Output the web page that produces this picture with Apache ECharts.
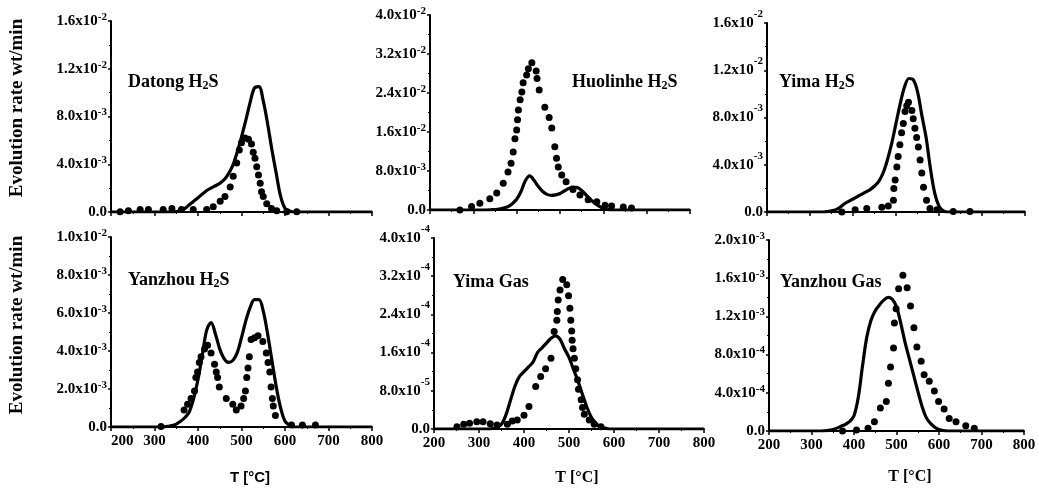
<!DOCTYPE html>
<html>
<head>
<meta charset="utf-8">
<script src="https://cdn.jsdelivr.net/npm/echarts@6/dist/echarts.min.js"></script>
<style>
  html, body { margin: 0; padding: 0; background: #fff; }
  #chart { width: 1039px; height: 491px; }
</style>
</head>
<body>
<div id="chart"></div>
<script>
// Temperature grid (°C) for the model curves
const lineT = [200, 300, 310, 320, 330, 340, 350, 360, 370, 380, 390, 400, 410, 420, 430, 440, 450, 460, 470, 480, 490,
  500, 510, 520, 530, 540, 550, 560, 570, 580, 590, 600, 610, 620, 630, 640, 650, 800];

// Model curves (solid lines), evolution rate wt/min
const datongLine = [0, 0, 0, 0, 0, 0, 0.00003, 0.0001, 0.0003, 0.0006, 0.0009, 0.0012, 0.0015, 0.0018, 0.0020, 0.0022, 0.0024, 0.0027, 0.0032, 0.0039, 0.0050,
  0.0063, 0.0077, 0.0092, 0.0104, 0.0105, 0.0093, 0.0074, 0.0052, 0.0032, 0.0013, 0.0003, 0.0001, 0, 0, 0, 0, 0];
const huolinheLine = [0, 0, 0, 0, 0, 0.00005, 0.0001, 0.0002, 0.0004, 0.0007, 0.0013, 0.0022, 0.0038, 0.0060, 0.0070, 0.0061, 0.0048, 0.0038, 0.0032, 0.0030, 0.0031,
  0.0034, 0.0039, 0.0044, 0.0047, 0.0046, 0.0040, 0.0031, 0.0022, 0.0014, 0.0008, 0.0003, 0.0001, 0, 0, 0, 0, 0];
const yimaLine = [0, 0, 0, 0, 0, 0.00003, 0.0001, 0.0002, 0.0004, 0.0007, 0.0009, 0.0011, 0.0013, 0.0015, 0.0017, 0.0019, 0.0022, 0.0026, 0.0033, 0.0044, 0.0058,
  0.0075, 0.0092, 0.0106, 0.0113, 0.0112, 0.0102, 0.0082, 0.0063, 0.0037, 0.0016, 0.0005, 0.0001, 0, 0, 0, 0, 0];
const yanzhouLine = [0, 0, 0, 0, 0.00003, 0.00007, 0.00015, 0.0003, 0.0005, 0.0008, 0.0015, 0.0025, 0.0038, 0.0051, 0.0055, 0.0049, 0.0041, 0.0036, 0.0034, 0.0035, 0.0039,
  0.0047, 0.0056, 0.0063, 0.0067, 0.0067, 0.0061, 0.0049, 0.0035, 0.0021, 0.0010, 0.0003, 0.0001, 0, 0, 0, 0, 0];
const yimaGasLine = [0, 0, 0, 0, 0.000001, 0.000004, 0.00001, 0.00003, 0.00006, 0.00009, 0.00011, 0.00012, 0.00013, 0.00014, 0.00016, 0.00017, 0.00018, 0.00019, 0.000195, 0.000188, 0.000168,
  0.00015, 0.000125, 0.0001, 0.000072, 0.000045, 0.000024, 0.000012, 0.000005, 0.000002, 0, 0, 0, 0, 0, 0, 0, 0];
const yanzhouGasLine = [0, 0, 0, 0, 0.000002, 0.000006, 0.000015, 0.00003, 0.00005, 0.00007, 0.0001, 0.00016, 0.00035, 0.00068, 0.00098, 0.00116, 0.00126, 0.00132, 0.00137, 0.0014, 0.00138,
  0.0013, 0.00113, 0.00093, 0.00076, 0.00059, 0.00042, 0.00026, 0.00014, 0.00008, 0.00004, 0.000015, 0.000005, 0, 0, 0, 0, 0];

// Measured points (dots)
const datongDotT = [221, 240, 267, 286, 320, 340, 362, 389, 420, 435, 451, 462, 474, 481, 489, 495, 500, 508, 516, 523, 527, 531, 535, 539, 543, 546, 550, 558, 569, 581, 604, 627];
const datongDotV = [0.00003, 0.0001, 0.0002, 0.0002, 0.0002, 0.0003, 0.0002, 0.0002, 0.0002, 0.00045, 0.0009, 0.0013, 0.0021, 0.003, 0.0041, 0.0052,
  0.0058, 0.0062, 0.0061, 0.0057, 0.005, 0.0045, 0.0038, 0.0031, 0.0024, 0.0017, 0.0013, 0.0007, 0.0003, 0.0001, 0.00003, 0.00003];

const huolinheDotT = [269, 296, 315, 338, 354, 369, 380, 387, 392, 396, 400, 402, 404, 408, 412, 415, 423, 427, 435, 445, 447, 452, 465, 475,
  481, 488, 492, 496, 504, 514, 530, 546, 565, 585, 604, 619, 646, 665];
const huolinheDotV = [0, 0.0007, 0.0014, 0.0023, 0.0035, 0.0055, 0.0078, 0.0096, 0.0119, 0.0146, 0.0164, 0.0185, 0.0205, 0.0226, 0.0242, 0.0261,
  0.0277, 0.029, 0.0302, 0.0285, 0.027, 0.0246, 0.0211, 0.019, 0.0168, 0.013, 0.0106, 0.0088, 0.0072, 0.0058, 0.0042, 0.0031, 0.0021,
  0.0017, 0.001, 0.0008, 0.0006, 0.0004];

const yimaDotT = [374, 405, 432, 467, 482, 494, 495, 498, 502, 505, 509, 513, 517, 521, 525, 529, 537, 540, 544, 548, 552, 556, 560, 564, 571, 579, 595, 633, 672];
const yimaDotV = [0, 0.0002, 0.0003, 0.0004, 0.0005, 0.001, 0.002, 0.0027, 0.0038, 0.0047, 0.0057, 0.0067, 0.0075, 0.0085, 0.009, 0.0093,
  0.0086, 0.0079, 0.0071, 0.0063, 0.0055, 0.0044, 0.0033, 0.0021, 0.001, 0.0003, 0.0002, 0.00005, 0.00005];

const yanzhouDotT = [315, 368, 376, 384, 392, 395, 399, 403, 407, 415, 422, 430, 438, 442, 445, 449, 465, 480, 488, 499, 505, 509, 512, 515,
  518, 522, 530, 538, 549, 557, 561, 565, 568, 571, 573, 578, 615, 640, 670];
const yanzhouDotV = [0.00003, 0.0009, 0.0012, 0.0015, 0.0019, 0.0026, 0.0029, 0.0034, 0.0037, 0.0041, 0.0043, 0.0039, 0.0033, 0.0029, 0.0026, 0.0021,
  0.0015, 0.0012, 0.0009, 0.0011, 0.0015, 0.0019, 0.0026, 0.0031, 0.0037, 0.0046, 0.0047, 0.0048, 0.0045, 0.0039, 0.0034, 0.0029,
  0.0021, 0.0015, 0.0011, 0.0006, 0.0001, 0.0001, 0.0001];

const yimaGasDotT = [251, 266, 279, 295, 309, 325, 340, 363, 374, 385, 400, 411, 426, 437, 448, 460, 467, 473, 474, 476, 480, 486, 495, 499,
  502, 504, 506, 507, 509, 512, 515, 519, 521, 527, 530, 534, 545, 556, 571];
const yimaGasDotV = [4.9e-6, 9.8e-6, 1.2e-5, 1.5e-5, 1.5e-5, 1.1e-5, 8.4e-6, 1e-5, 1.7e-5, 1.9e-5, 2.9e-5, 4.7e-5, 8.9e-5, 1.1e-4, 1.26e-4, 1.48e-4,
  2.04e-4, 2.28e-4, 2.46e-4, 2.70e-4, 2.91e-4, 3.13e-4, 3.02e-4, 2.79e-4, 2.53e-4, 2.28e-4, 2.05e-4, 1.86e-4, 1.68e-4, 1.48e-4, 1.26e-4, 1.03e-4,
  8.3e-5, 6.1e-5, 4.5e-5, 3.1e-5, 1.9e-5, 9.8e-6, 4.9e-6];

const yanzhouGasDotT = [373, 406, 433, 448, 462, 476, 481, 486, 493, 495, 499, 505, 515, 525, 533, 541, 548, 558, 565, 577, 589, 599, 612, 624, 640, 663, 683];
const yanzhouGasDotV = [0, 0.00001, 0.000028, 0.000098, 0.00024, 0.00031, 0.0005, 0.00067, 0.00087, 0.00113, 0.00128, 0.00149, 0.00163, 0.0015, 0.00131, 0.00108,
  0.00088, 0.00073, 0.00059, 0.00052, 0.00042, 0.00031, 0.00023, 0.00013, 0.000097, 0.000055, 0.000028];

// Axis tick labels
const xTickLabels = ['200', '300', '400', '500', '600', '700', '800'];
const yLabelsDatong = ['0.0', '4.0x10-3', '8.0x10-3', '1.2x10-2', '1.6x10-2'];
const yLabelsHuolinhe = ['0.0', '8.0x10-3', '1.6x10-2', '2.4x10-2', '3.2x10-2', '4.0x10-2'];
const yLabelsYima = ['0.0', '4.0x10-3', '8.0x10-3', '1.2x10-2', '1.6x10-2'];
const yLabelsYanzhou = ['0.0', '2.0x10-3', '4.0x10-3', '6.0x10-3', '8.0x10-3', '1.0x10-2'];
const yLabelsYimaGas = ['0.0', '8.0x10-5', '1.6x10-4', '2.4x10-4', '3.2x10-4', '4.0x10-4'];
const yLabelsYanzhouGas = ['0.0', '4.0x10-4', '8.0x10-4', '1.2x10-3', '1.6x10-3', '2.0x10-3'];

// Panel names: [text before subscript, subscript, text after]
const panelNames = [
  ['Datong H', '2', 'S'], ['Huolinhe H', '2', 'S'], ['Yima H', '2', 'S'],
  ['Yanzhou H', '2', 'S'], ['Yima Gas', '', ''], ['Yanzhou Gas', '', '']
];
const yTitle = 'Evolution rate wt/min';
const xTitle = 'T [°C]';

const SERIF = '"Liberation Serif", "Times New Roman", serif';
const SANS = '"Liberation Sans", Arial, sans-serif';

const pair = (xs, ys) => xs.map((x, i) => [x, ys[i]]);

const panels = [
  { rect: [111, 21, 261, 191], max: 0.016, interval: 0.004, labels: yLabelsDatong, line: datongLine, dt: datongDotT, dv: datongDotV, supPad: 8, xl: false, name: [128, 82] },
  { rect: [430, 15, 260, 195], max: 0.04, interval: 0.008, labels: yLabelsHuolinhe, line: huolinheLine, dt: huolinheDotT, dv: huolinheDotV, supPad: 8, xl: false, name: [572, 82] },
  { rect: [767, 23, 258, 189], max: 0.016, interval: 0.004, labels: yLabelsYima, line: yimaLine, dt: yimaDotT, dv: yimaDotV, supPad: 18, xl: false, name: [779, 82] },
  { rect: [111, 237, 261, 190], max: 0.01, interval: 0.002, labels: yLabelsYanzhou, line: yanzhouLine, dt: yanzhouDotT, dv: yanzhouDotV, supPad: 8, xl: true, name: [128, 280] },
  { rect: [434, 238, 270, 191], max: 0.0004, interval: 0.00008, labels: yLabelsYimaGas, line: yimaGasLine, dt: yimaGasDotT, dv: yimaGasDotV, supPad: 18, xl: true, name: [453, 282] },
  { rect: [769, 240, 255, 191], max: 0.002, interval: 0.0004, labels: yLabelsYanzhouGas, line: yanzhouGasLine, dt: yanzhouGasDotT, dv: yanzhouGasDotV, supPad: 8, xl: true, name: [780, 282] }
];

const axisLine = { show: true, onZero: false, lineStyle: { color: '#000', width: 2 } };

const grid = [], xAxis = [], yAxis = [], series = [], graphic = [];

panels.forEach((p, i) => {
  grid.push({ left: p.rect[0], top: p.rect[1], width: p.rect[2], height: p.rect[3], containLabel: false, outerBoundsMode: 'none' });
  xAxis.push({
    gridIndex: i, type: 'value', min: 200, max: 800, interval: 100,
    axisLine, splitLine: { show: false },
    axisTick: { show: true, length: 4, lineStyle: { color: '#000', width: 1.5 } },
    minorTick: { show: true, splitNumber: 2, length: 2, lineStyle: { color: '#000', width: 1 } },
    axisLabel: {
      show: p.xl, margin: 7, alignMinLabel: i === 3 ? 'left' : 'center',
      fontFamily: SERIF, fontWeight: 'bold', fontSize: 15, color: '#000',
      formatter: v => xTickLabels[Math.round((v - 200) / 100)]
    }
  });
  yAxis.push({
    gridIndex: i, type: 'value', min: 0, max: p.max, interval: p.interval,
    axisLine, splitLine: { show: false },
    axisTick: { show: true, length: 3, lineStyle: { color: '#000', width: 1.5 } },
    minorTick: { show: true, splitNumber: 2, length: 2, lineStyle: { color: '#000', width: 1 } },
    axisLabel: {
      margin: 4, color: '#000',
      formatter: v => {
        const s = p.labels[Math.round(v / p.interval)];
        const m = s.match(/^(.*x10)(-\d+)$/);
        return m ? '{m|' + m[1] + '}{e|' + m[2] + '}' : '{m|' + s + '}';
      },
      rich: {
        m: { fontFamily: SERIF, fontWeight: 'bold', fontSize: 15, color: '#000' },
        e: { fontFamily: SERIF, fontWeight: 'bold', fontSize: 11, color: '#000', padding: [0, 0, p.supPad, 0] }
      }
    }
  });
  series.push({
    type: 'line', xAxisIndex: i, yAxisIndex: i, data: pair(lineT, p.line),
    symbol: 'none', smooth: 0.35, lineStyle: { color: '#000', width: 3.2 }, z: 2
  });
  series.push({
    type: 'scatter', xAxisIndex: i, yAxisIndex: i, data: pair(p.dt, p.dv),
    symbol: 'circle', symbolSize: 7, itemStyle: { color: '#000', opacity: 1 }, z: 3
  });
  const nm = panelNames[i];
  graphic.push({
    type: 'text', x: p.name[0], y: p.name[1],
    style: {
      text: '{t|' + nm[0] + '}' + (nm[1] ? '{s|' + nm[1] + '}{t|' + nm[2] + '}' : ''),
      textAlign: 'left', textVerticalAlign: 'middle',
      rich: {
        t: { fontFamily: SERIF, fontWeight: 'bold', fontSize: 18, fill: '#000', color: '#000' },
        s: { fontFamily: SERIF, fontWeight: 'bold', fontSize: 12, fill: '#000', color: '#000', padding: [7, 0, 0, 0] }
      }
    }
  });
});

// Axis titles
[108, 325].forEach(cy => {
  graphic.push({
    type: 'text', x: 17, y: cy, rotation: Math.PI / 2,
    style: { text: yTitle, font: 'bold 19px ' + SERIF, fill: '#000', textAlign: 'center', textVerticalAlign: 'middle' }
  });
});
[[250, 478, 'bold 15px ' + SANS], [577, 478, 'bold 16px ' + SERIF], [910, 477, 'bold 16px ' + SERIF]].forEach(([x, y, font]) => {
  graphic.push({
    type: 'text', x, y,
    style: { text: xTitle, font, fill: '#000', textAlign: 'center', textVerticalAlign: 'middle' }
  });
});

const chart = echarts.init(document.getElementById('chart'), null, { renderer: 'canvas' });
chart.setOption({
  backgroundColor: '#fff',
  animation: false,
  grid, xAxis, yAxis, series, graphic
});
</script>
</body>
</html>
